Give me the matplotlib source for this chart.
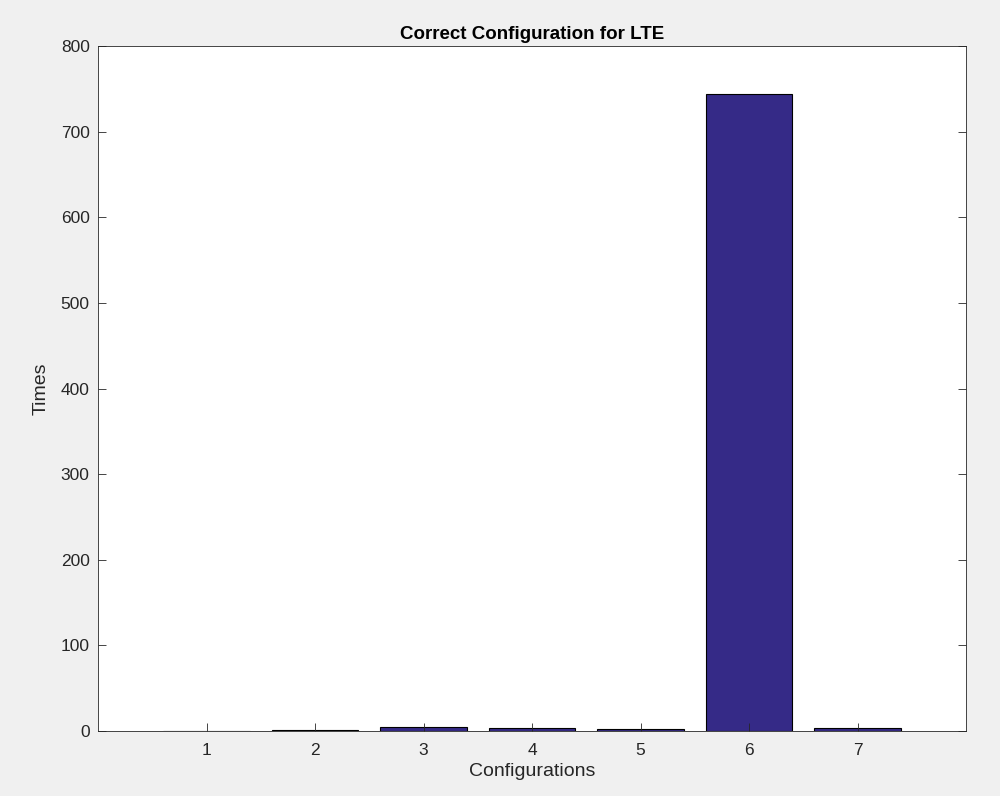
import matplotlib
matplotlib.use("Agg")
import matplotlib.pyplot as plt

plt.rcParams['font.family'] = ['Liberation Sans', 'DejaVu Sans']

# data
configs = [1, 2, 3, 4, 5, 6, 7]
times = [0, 1, 5, 3, 2, 744, 4]

fig = plt.figure(figsize=(10, 7.96), dpi=100, facecolor='#f0f0f0')
ax = fig.add_axes([0.098, 0.0817, 0.868, 0.8603])

ax.bar(configs, times, width=0.8, color='#352a87', edgecolor='black', linewidth=0.8)

ax.set_xlim(0, 8)
ax.set_ylim(0, 800)
ax.set_xticks(configs)
ax.set_yticks(range(0, 801, 100))
gray = '#262626'
ax.tick_params(direction='in', top=False, right=True, labelsize=12.5, length=6,
               width=0.6, colors=gray)
ax.tick_params(axis='x', pad=9)
ax.tick_params(axis='y', pad=6)
for s in ax.spines.values():
    s.set_linewidth(0.6)
    s.set_color(gray)

ax.set_title('Correct Configuration for LTE', fontsize=13.5, fontweight='bold', pad=5)
ax.set_xlabel('Configurations', fontsize=14, labelpad=3, color=gray)
ax.set_ylabel('Times', fontsize=14, labelpad=8, color=gray)

fig.savefig('out.png', dpi=100, facecolor=fig.get_facecolor())
